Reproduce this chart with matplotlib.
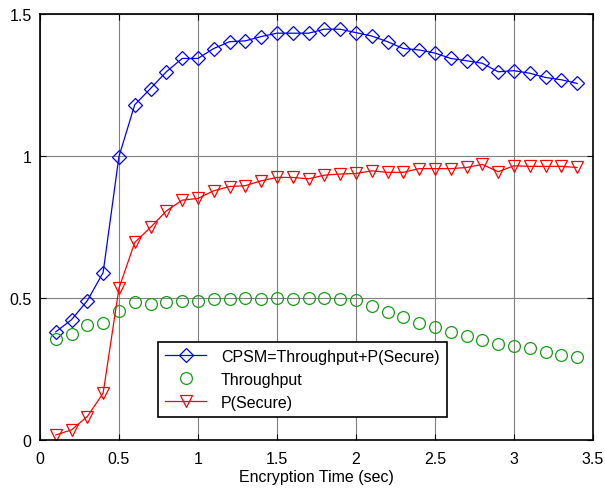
import matplotlib
matplotlib.use("Agg")
from matplotlib import pyplot as plt
import numpy as np

plt.rcParams['font.family'] = ['Liberation Sans', 'DejaVu Sans']

# encryption time (sec)
enc_time = [round(0.1 * i, 1) for i in range(1, 35)]

# CPSM = Throughput + P(Secure)
cpsm = [0.381, 0.424, 0.491, 0.590, 0.998, 1.181, 1.238, 1.297, 1.344, 1.344,
        1.379, 1.403, 1.406, 1.421, 1.433, 1.433, 1.433, 1.447, 1.447, 1.435,
        1.423, 1.403, 1.379, 1.374, 1.363, 1.344, 1.336, 1.327, 1.297, 1.301,
        1.292, 1.277, 1.269, 1.256]

throughput = [0.355, 0.373, 0.405, 0.414, 0.454, 0.485, 0.479, 0.485, 0.490, 0.490,
              0.498, 0.498, 0.502, 0.498, 0.502, 0.498, 0.502, 0.502, 0.498, 0.493,
              0.473, 0.450, 0.432, 0.414, 0.397, 0.379, 0.365, 0.353, 0.338, 0.330,
              0.323, 0.309, 0.299, 0.291]

p_secure = [0.018, 0.036, 0.083, 0.165, 0.534, 0.696, 0.749, 0.807, 0.845, 0.851,
            0.878, 0.893, 0.896, 0.913, 0.925, 0.925, 0.920, 0.933, 0.937, 0.939,
            0.948, 0.943, 0.943, 0.956, 0.956, 0.956, 0.960, 0.971, 0.945, 0.966,
            0.964, 0.964, 0.964, 0.960]

labels = ['CPSM=Throughput+P(Secure)', 'Throughput', 'P(Secure)']

fig = plt.figure(figsize=(6.05, 4.89), dpi=100)
ax = fig.add_axes([0.066, 0.098, 0.914, 0.871])

ax.plot(enc_time, cpsm, color='#0000ff', lw=0.9, marker='D', ms=7.5,
        mfc='none', mec='#0000ff', mew=0.9, label=labels[0])
ax.plot(enc_time, throughput, color='#008000', ls='none', marker='o', ms=8.5,
        mfc='none', mec='#1a9a1a', mew=0.9, label=labels[1])
ax.plot(enc_time, p_secure, color='#ff0000', lw=0.9, marker='v', ms=9,
        mfc='none', mec='#ff0000', mew=0.9, label=labels[2])

ax.set_xlim(0, 3.5)
ax.set_ylim(0, 1.5)
ax.set_xticks(np.arange(0, 3.51, 0.5))
ax.set_xticklabels(['0', '0.5', '1', '1.5', '2', '2.5', '3', '3.5'])
ax.set_yticks([0, 0.5, 1, 1.5])
ax.set_yticklabels(['0', '0.5', '1', '1.5'])
ax.grid(True, color='#808080', lw=0.8)
ax.tick_params(direction='in', top=True, right=True, labelsize=11.5, length=4)
ax.tick_params(axis='x', pad=8)
ax.tick_params(axis='y', pad=6)
for sp in ax.spines.values():
    sp.set_linewidth(1.2)
ax.set_xlabel('Encryption Time (sec)', fontsize=11.5, labelpad=2)

leg = ax.legend(loc='lower left', bbox_to_anchor=(0.213, 0.054), fontsize=11.5,
                fancybox=False, framealpha=1, edgecolor='black',
                borderpad=0.45, labelspacing=0.5, handlelength=2.6,
                handletextpad=0.9, borderaxespad=0)
leg.get_frame().set_linewidth(1.2)

fig.savefig('out.png', dpi=100)
